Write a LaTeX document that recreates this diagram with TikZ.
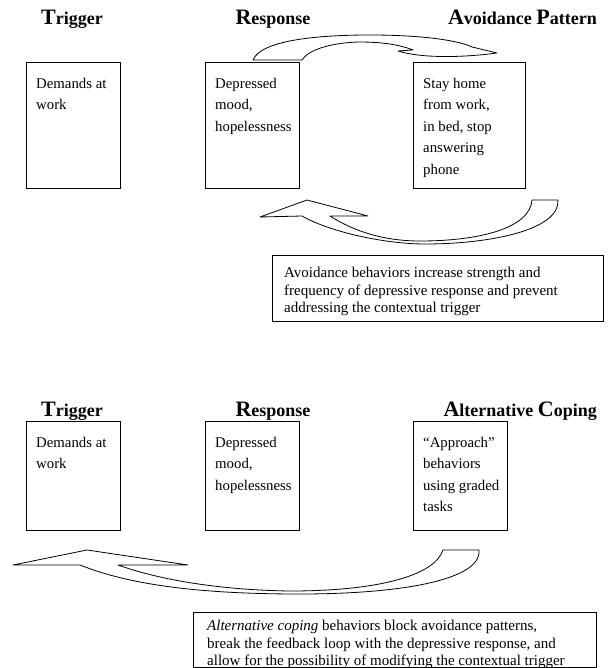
\documentclass[tikz,border=0pt]{standalone}
\usepackage{fontspec}
\setmainfont{Liberation Serif}
\usetikzlibrary{positioning}

\newcommand\initial[1]{{\fontsize{22}{22}\selectfont #1}}

\tikzset{
  hdr/.style={font=\bfseries\fontsize{18}{18}\selectfont, inner sep=0, anchor=base},
  stage/.style={draw, line width=0.9pt, minimum width=94, minimum height=126, anchor=north west, inner sep=0},
  stagetxt/.style={font=\fontsize{14.8}{21.5}\selectfont, align=left, inner sep=0, anchor=north west},
  notebox/.style={draw, line width=0.9pt, anchor=north west, inner sep=0},
  notetxt/.style={font=\fontsize{15}{17.5}\selectfont, align=left, inner sep=0, anchor=north west},
  blockarrow/.style={draw, line width=0.8pt, fill=white, line join=round}
}

\begin{document}
\begin{tikzpicture}[x=1pt,y=-1pt]
\useasboundingbox (0,0) rectangle (609,668);

% avoidance cycle
\node[hdr] (trigA) at (72,25) {\initial{T}rigger};
\node[hdr] (respA) at (273,25) {\initial{R}esponse};
\node[hdr, anchor=base east] (avoidA) at (597,25) {\initial{A}voidance \initial{P}attern};

\node[stage] (demandA) at (26,62) {};
\node[stage] (moodA) at (205,62) {};
\node[stage, minimum width=112] (stayA) at (413,62) {};
\node[stagetxt] (demandAtxt) at ([shift={(10,16)}]demandA.north west) {Demands at\\work};
\node[stagetxt] (moodAtxt) at ([shift={(10,16)}]moodA.north west) {Depressed\\mood,\\hopelessness};
\node[stagetxt] (stayAtxt) at ([shift={(10,16)}]stayA.north west) {Stay home\\from work,\\in bed, stop\\answering\\phone};

\draw[blockarrow] (253,60) .. controls (262,38) and (330,35) .. (370,35)
  .. controls (425,35) and (460,41) .. (472,47) -- (497,53)
  .. controls (460,58) and (420,58) .. (398,51) -- (413,50)
  .. controls (395,43) and (375,42) .. (358,42)
  .. controls (330,43) and (308,50) .. (302,60) -- cycle;

\draw[blockarrow] (260,217) -- (307,200) -- (368,216) -- (330,216)
  .. controls (355,232) and (385,241) .. (420,241)
  .. controls (480,241) and (530,228) .. (532,200) -- (558,200)
  .. controls (560,230) and (490,244) .. (425,244)
  .. controls (385,244) and (330,232) .. (302,216) -- cycle;

\node[notebox, minimum width=331, minimum height=66] (noteA) at (272,255) {};
\node[notetxt] (noteAtxt) at ([shift={(12,12)}]noteA.north west)
  {Avoidance behaviors increase strength and\\frequency of depressive response and prevent\\addressing the contextual trigger};

% alternative coping
\node[hdr] (trigB) at (72,416) {\initial{T}rigger};
\node[hdr] (respB) at (273,416) {\initial{R}esponse};
\node[hdr, anchor=base east] (altB) at (597,416) {\initial{A}lternative \initial{C}oping};

\node[stage, minimum height=109] (demandB) at (26,421) {};
\node[stage, minimum height=109] (moodB) at (205,421) {};
\node[stage, minimum height=109] (approachB) at (413,421) {};
\node[stagetxt] (demandBtxt) at ([shift={(10,16)}]demandB.north west) {Demands at\\work};
\node[stagetxt] (moodBtxt) at ([shift={(10,16)}]moodB.north west) {Depressed\\mood,\\hopelessness};
\node[stagetxt] (approachBtxt) at ([shift={(10,16)}]approachB.north west) {“Approach”\\behaviors\\using graded\\tasks};

\draw[blockarrow] (13,565) -- (87,550) -- (188,565) -- (118,565)
  .. controls (160,580) and (220,590) .. (290,591)
  .. controls (380,591) and (435,575) .. (443,550) -- (479,550)
  .. controls (482,580) and (400,594) .. (300,594)
  .. controls (200,594) and (130,585) .. (80,565) -- cycle;

\node[notebox, minimum width=403, minimum height=55] (noteB) at (193,612) {};
\node[notetxt] (noteBtxt) at ([shift={(14,8)}]noteB.north west)
  {\textit{Alternative coping} behaviors block avoidance patterns,\\break the feedback loop with the depressive response, and\\allow for the possibility of modifying the contextual trigger};
\end{tikzpicture}
\end{document}
